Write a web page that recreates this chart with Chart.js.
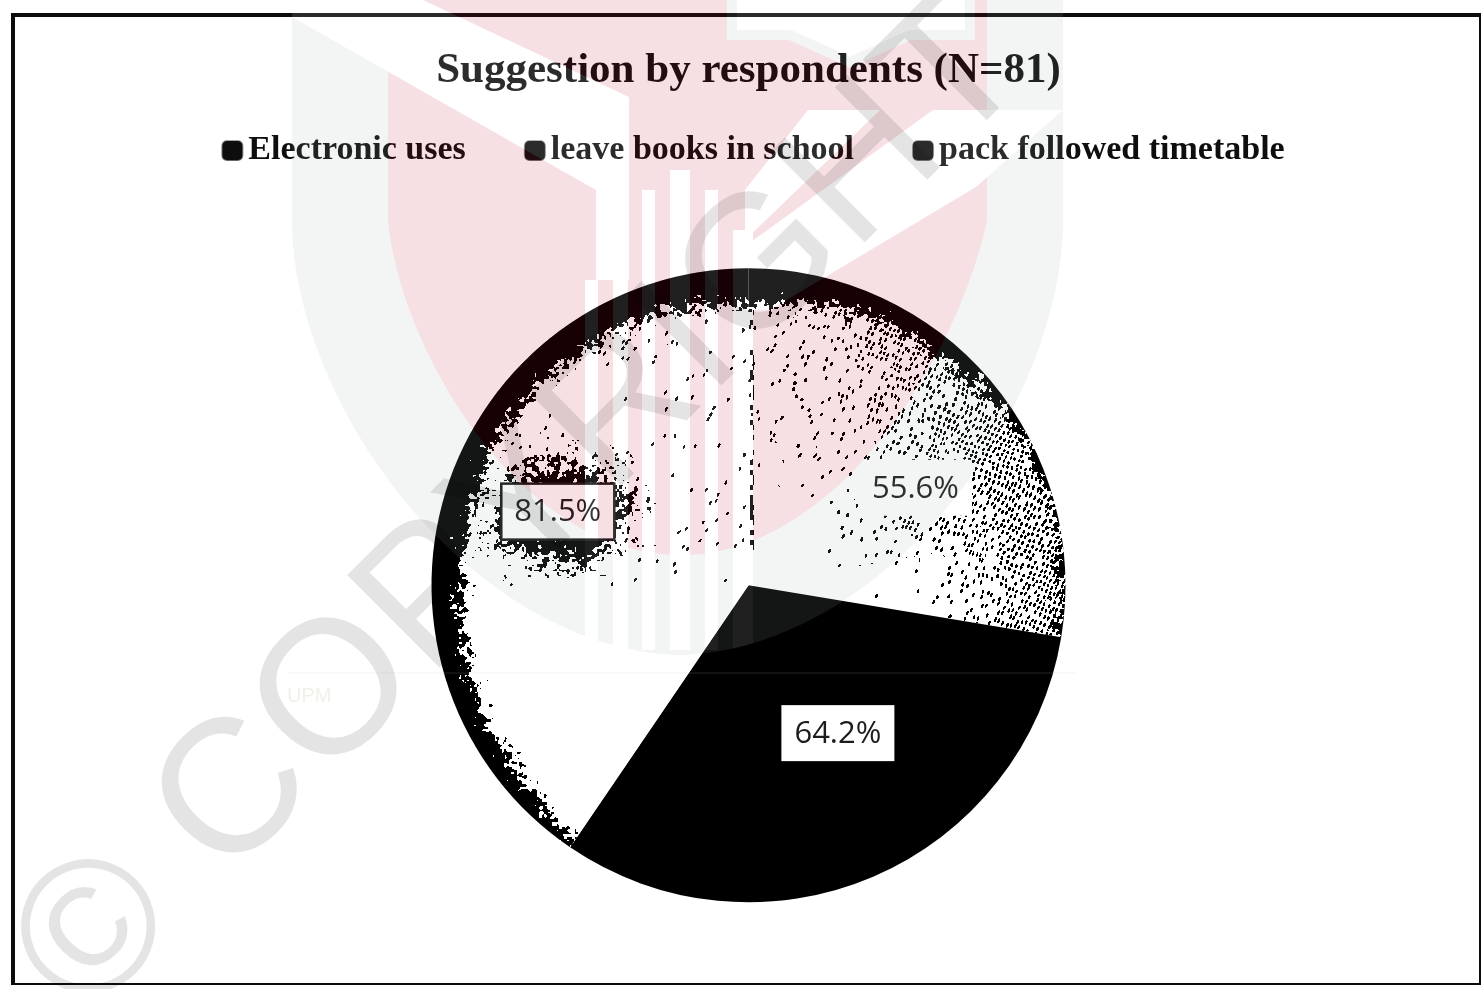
<!DOCTYPE html>
<html>
<head>
<meta charset="utf-8">
<title>Suggestion by respondents</title>
<script src="https://cdn.jsdelivr.net/npm/chart.js@4"></script>
<style>
  html, body { margin: 0; padding: 0; background: #fff; }
  #wrap { position: relative; width: 1482px; height: 989px; overflow: hidden; background: #fff; }
  #chart { position: absolute; left: 0; top: 0; }
  #frame { position: absolute; left: 11px; top: 13px; width: 1470px; height: 972px; box-sizing: border-box;
           border: solid #0c0c0c; border-width: 4px 2px 2px 4px; pointer-events: none; }
  #mark { position: absolute; left: 0; top: 0; pointer-events: none; }
</style>
</head>
<body>
<div id="wrap">
  <canvas id="chart" width="1482" height="989"></canvas>
  <div id="frame"></div>
  <svg id="mark" width="1482" height="989" viewBox="0 0 1482 989">
    <defs>
      <clipPath id="shieldClip">
        <path d="M292,0 L292,230 C300,420 480,650 680,655 C880,650 1055,420 1063,230 L1063,0 Z"/>
      </clipPath>
    </defs>
    <!-- university crest, very faint, laid over everything -->
    <g opacity="0.125" clip-path="url(#shieldClip)">
      <rect x="292" y="0" width="771" height="655" fill="#a0a5a5"/>
      <path d="M388,0 L388,220 C400,350 520,555 680,555 C840,555 960,350 987,220 L987,0 Z" fill="rgb(190,10,40)"/>
      <g fill="#fff">
        <polygon points="292,0 423,0 629,97 629,280 596,280 596,190 292,17"/>
        <polygon points="933,110 1063,110 976,187 770,310 740,310 740,250"/>
        <polygon points="808,110 880,110 745,240 745,190"/>
        <rect x="585" y="280" width="13" height="370"/>
        <rect x="613" y="280" width="15" height="370"/>
        <rect x="642" y="190" width="13" height="460"/>
        <rect x="670" y="170" width="20" height="480"/>
        <rect x="705" y="190" width="13" height="460"/>
        <rect x="733" y="230" width="20" height="420"/>
      </g>
      <path d="M732,-10 L732,35 L790,35 L850,62 L910,35 L970,35 L970,-10 Z" fill="#fff" stroke="#a0a5a5" stroke-width="10"/>
    </g>
    <line x1="287" y1="673" x2="1075" y2="673" stroke="rgba(190,190,150,0.13)" stroke-width="1.5"/>
    <text x="287" y="702" font-family="Liberation Sans" font-size="20" fill="#f1f1ea">UPM</text>
    <text transform="translate(85,1022) rotate(-45)" font-family="Liberation Sans" font-size="190" letter-spacing="2"
          fill="rgba(0,0,0,0.107)">© COPYRIGHT</text>
  </svg>
</div>

<script>
const chartTitle = 'Suggestion by respondents (N=81)';
const categories = ['Electronic uses', 'leave books in school', 'pack followed timetable'];
const percents = [55.6, 64.2, 81.5];

// label placement relative to each slice's middle
const labelAngleShift = [10, -8, 4];
const labelRadius = [0.61, 0.545, 0.645];
const labelBorder = [null, null, '#161616'];

const PIE_RADIUS = 317;

// width in px of the dark rim, by clockwise angle from 12 o'clock
const rimStops = [
  [0, 36], [10, 32], [20, 24], [30, 22], [40, 20], [50, 12], [60, 6], [70, 4], [99, 4],
  [214, 8], [225, 18], [240, 22], [257, 26], [270, 30], [290, 30], [310, 28], [330, 30], [350, 32], [360, 36]
];

function rimWidth(deg) {
  for (let i = 1; i < rimStops.length; i++) {
    if (deg <= rimStops[i][0]) {
      const [a0, w0] = rimStops[i - 1], [a1, w1] = rimStops[i];
      return w0 + (w1 - w0) * (deg - a0) / (a1 - a0);
    }
  }
  return 36;
}

function hash(x, y) {
  const s = Math.sin(x * 12.9898 + y * 78.233) * 43758.5453;
  return s - Math.floor(s);
}

// smooth value noise, cell size in px
function noise(x, y, size) {
  const gx = x / size, gy = y / size;
  const ix = Math.floor(gx), iy = Math.floor(gy);
  let fx = gx - ix, fy = gy - iy;
  fx = fx * fx * (3 - 2 * fx); fy = fy * fy * (3 - 2 * fy);
  const top = hash(ix, iy) * (1 - fx) + hash(ix + 1, iy) * fx;
  const bot = hash(ix, iy + 1) * (1 - fx) + hash(ix + 1, iy + 1) * fx;
  return top * (1 - fy) + bot * fy;
}

function clamp01(v) { return Math.max(0, Math.min(1, v)); }

// true when a small slanted dash of the stipple covers this pixel
function stippleDot(x, y, p) {
  // bend the grid a little so the dashes do not line up in rows
  const wx = x + (noise(x, y, 37) - 0.5) * 9, wy = y + (noise(y, x, 43) - 0.5) * 9;
  const u = wx + wy * 0.45, v = wy - wx * 0.45;
  const cx = Math.floor(u / 5), cy = Math.floor(v / 7);
  if (hash(cx, cy) >= p) return false;
  const ox = 1.5 + 2 * hash(cx + 7, cy), oy = 2 + 3 * hash(cx, cy + 11);
  const lx = u - cx * 5 - ox, ly = v - cy * 7 - oy;
  return (lx * lx) / 1.9 + (ly * ly) / 6 < 1;
}

// mottled printed tone of the two light slices
function buildTexture(chart, cx, cy) {
  const cv = document.createElement('canvas');
  cv.width = chart.width; cv.height = chart.height;
  const c = cv.getContext('2d');
  const img = c.createImageData(cv.width, cv.height);
  const x0 = Math.floor(cx - PIE_RADIUS) - 2, x1 = Math.ceil(cx + PIE_RADIUS) + 2;
  const y0 = Math.floor(cy - PIE_RADIUS) - 2, y1 = Math.ceil(cy + PIE_RADIUS) + 2;
  img.data.fill(255);
  for (let y = y0; y < y1; y++) {
    for (let x = x0; x < x1; x++) {
      const dx = x - cx, dy = y - cy;
      const r = Math.hypot(dx, dy);
      if (r > PIE_RADIUS + 1) continue;
      const rn = r / PIE_RADIUS;
      let deg = Math.atan2(dx, -dy) * 180 / Math.PI;
      if (deg < 0) deg += 360;
      const edge = PIE_RADIUS - r;
      const w = rimWidth(deg);
      const n = noise(x, y, 2.5) * 0.45 + noise(x, y, 5) * 0.3 + noise(x, y, 11) * 0.25;
      let dark = edge < w + (n - 0.5) * 44;

      if (!dark && deg < 100) {
        // stipple gets heavier toward the outer right side and just under the top rim
        const angular = clamp01((deg - 5) / 55);
        let p = Math.pow(clamp01((rn - 0.2) / 0.65), 1.5) * (0.14 + 0.8 * angular);
        if (deg > 80) p *= clamp01((rn - 0.5) / 0.4) * 0.9 + 0.1;
        if (deg > 25 && deg < 60 && rn > 0.82) p = Math.max(p, 0.75);
        dark = stippleDot(x, y, p);
      }
      if (!dark && deg > 325) {
        dark = stippleDot(x, y, 0.12 * rn);
      }
      if (!dark && deg > 214) {
        // smudge around the left value label
        const bx = (dx + 191) / 78, by = (dy + 73) / 60;
        const t = Math.exp(-(bx * bx + by * by) * 0.9);
        dark = noise(x, y, 2.5) * 0.55 + noise(x, y, 6) * 0.45 < t * 1.1 - 0.1;
        if (!dark && dy < 0 && Math.abs(dx + 90) < 180) dark = stippleDot(x, y, 0.05);
      }
      if (!dark && Math.abs(dx - 3) < 2 && dy < -30 && dy > -300) {
        // crease running down from the top
        dark = hash(Math.floor(x / 3), Math.floor(y / 5)) < 0.4;
      }
      if (dark) {
        const k = (y * cv.width + x) * 4;
        img.data[k] = img.data[k + 1] = img.data[k + 2] = 0;
      }
    }
  }
  c.putImageData(img, 0, 0);
  return c.createPattern(cv, 'no-repeat');
}

let _texture = null;
function sliceFill(ctx) {
  const chart = ctx.chart;
  if (ctx.dataIndex === 1) return '#000';
  if (!chart.chartArea) return '#fff';
  if (!_texture) {
    const area = chart.chartArea;
    _texture = buildTexture(chart, (area.left + area.right) / 2, (area.top + area.bottom) / 2);
  }
  return _texture;
}

// legend swatch: the library centres this canvas on the key, so the square sits to the right side
function makeSwatch() {
  const cv = document.createElement('canvas');
  cv.width = 40; cv.height = 22;
  const c = cv.getContext('2d');
  c.fillStyle = '#0d0d0d';
  c.beginPath();
  c.roundRect(14.5, 1, 21, 20, 5);
  c.fill();
  return cv;
}
const swatch = makeSwatch();

const valueLabels = {
  id: 'valueLabels',
  afterLayout(chart) {
    // legend row sits tighter under the title and a little right of centre
    chart.legend.left += 11;
    chart.legend.top -= 23;
  },
  afterDatasetsDraw(chart) {
    const { ctx } = chart;
    const arcs = chart.getDatasetMeta(0).data;
    const w = 113, h = 56;
    ctx.save();
    ctx.font = '31px "Open Sans"';
    ctx.textAlign = 'center';
    ctx.textBaseline = 'middle';
    arcs.forEach((arc, i) => {
      const mid = (arc.startAngle + arc.endAngle) / 2 + labelAngleShift[i] * Math.PI / 180;
      const x = arc.x + Math.cos(mid) * PIE_RADIUS * labelRadius[i];
      const y = arc.y + Math.sin(mid) * PIE_RADIUS * labelRadius[i];
      ctx.fillStyle = '#fff';
      ctx.fillRect(x - w / 2, y - h / 2, w, h);
      if (labelBorder[i]) {
        ctx.strokeStyle = labelBorder[i];
        ctx.lineWidth = 2.5;
        ctx.strokeRect(x - w / 2, y - h / 2, w, h);
      }
      ctx.fillStyle = '#1c1c1c';
      ctx.fillText(percents[i].toFixed(1) + '%', x, y + 1);
    });
    ctx.restore();
  }
};

new Chart(document.getElementById('chart'), {
  type: 'pie',
  data: {
    labels: categories,
    datasets: [{
      data: percents,
      backgroundColor: sliceFill,
      borderWidth: 0,
      radius: PIE_RADIUS
    }]
  },
  options: {
    responsive: false,
    animation: false,
    layout: { padding: { left: 15, right: 0, top: 0, bottom: 19 } },
    plugins: {
      tooltip: { enabled: false },
      title: {
        display: true,
        text: chartTitle,
        color: '#0e0e0e',
        font: { family: '"Liberation Serif"', size: 43, weight: 'bold', lineHeight: 1.2 },
        padding: { top: 45, bottom: 0 }
      },
      legend: {
        position: 'top',
        labels: {
          color: '#0e0e0e',
          font: { family: '"Liberation Serif"', size: 34, weight: 'bold' },
          usePointStyle: true,
          boxWidth: 8,
          boxHeight: 8,
          padding: 60,
          generateLabels: chart => chart.data.labels.map((text, i) => ({
            text, pointStyle: swatch, fontColor: '#0e0e0e', hidden: false, index: i, datasetIndex: 0
          }))
        }
      }
    }
  },
  plugins: [valueLabels]
});
</script>
</body>
</html>
